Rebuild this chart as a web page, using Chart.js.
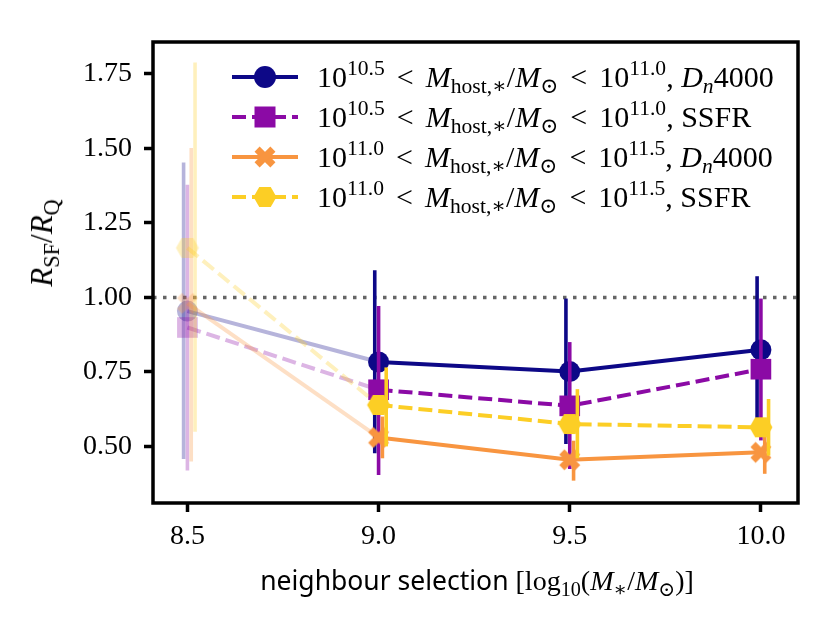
<!DOCTYPE html>
<html>
<head>
<meta charset="utf-8">
<script src="https://cdn.jsdelivr.net/npm/chart.js@4.4.1/dist/chart.umd.min.js"></script>
<style>
  html, body { margin: 0; padding: 0; background: #fff; }
  #wrap { position: relative; width: 830px; height: 642px; overflow: hidden; }
  #chart { position: absolute; left: 0; top: 0; }
  .math { font-family: "Liberation Serif", "DejaVu Serif", serif; color: #000; }
  .math i { font-style: italic; }
  .math sub, .math sup { font-size: 0.72em; line-height: 0; }
  .math sup { vertical-align: 0.55em; }
  .math sub { vertical-align: -0.3em; }
  .rel { margin: 0 0.4em; }
  #legend { position: absolute; left: 232px; top: 57px; }
  .row { height: 40px; display: flex; align-items: center; white-space: nowrap; font-size: 30px; }
  .row svg { flex: none; margin-right: 19px; }
  #ytitle { position: absolute; left: 42px; top: 243px; transform: translate(-50%, -50%) rotate(-90deg); font-size: 31px; white-space: nowrap; }
  #xtitle { position: absolute; left: 477px; top: 580px; transform: translate(-50%, -50%); font-size: 28px; white-space: nowrap; }
  .sans { font-family: "Noto Sans", "DejaVu Sans", sans-serif; font-size: 26.5px; }
</style>
</head>
<body>
<div id="wrap">
  <canvas id="chart" width="830" height="642"></canvas>
  <div id="legend" class="math"></div>
  <div id="ytitle" class="math"><i>R</i><sub>SF</sub>/<i>R</i><sub>Q</sub></div>
  <div id="xtitle" class="math"><span class="sans">neighbour selection</span> [log<sub>10</sub>(<i>M</i><sub>∗</sub>/<i>M</i><sub>⊙</sub>)]</div>
</div>
<script>
'use strict';

// neighbour selection mass (x) and the small sideways shift of each error bar
const neighbourMass = [8.5, 9.0, 9.5, 10.0];
const barOffsets = [-0.01, 0, 0.01, 0.02];

// 10^10.5 < M_host < 10^11.0, Dn4000
const loDn4000 = [0.954, 0.783, 0.751, 0.824];
const loDn4000Lower = [0.458, 0.477, 0.508, 0.55];
const loDn4000Upper = [1.453, 1.091, 0.996, 1.071];
// 10^10.5 < M_host < 10^11.0, SSFR
const loSsfr = [0.899, 0.690, 0.636, 0.759];
const loSsfrLower = [0.419, 0.404, 0.424, 0.52];
const loSsfrUpper = [1.378, 0.971, 0.850, 0.996];
// 10^11.0 < M_host < 10^11.5, Dn4000
const hiDn4000 = [0.98, 0.530, 0.455, 0.480];
const hiDn4000Lower = [0.449, 0.46, 0.385, 0.408];
const hiDn4000Upper = [1.501, 0.60, 0.519, 0.55];
// 10^11.0 < M_host < 10^11.5, SSFR
const hiSsfr = [1.166, 0.639, 0.575, 0.564];
const hiSsfrLower = [0.549, 0.50, 0.46, 0.469];
const hiSsfrUpper = [1.788, 0.765, 0.692, 0.659];

const xTicks = [8.5, 9.0, 9.5, 10.0];
const yTicks = [0.50, 0.75, 1.00, 1.25, 1.50, 1.75];
const refLevel = 1.0;

const hostBins = [['10.5', '11.0'], ['10.5', '11.0'], ['11.0', '11.5'], ['11.0', '11.5']];
const indicators = ['<i>D</i><sub><i>n</i></sub>4000', 'SSFR', '<i>D</i><sub><i>n</i></sub>4000', 'SSFR'];

const colours = [[13, 8, 135], [139, 10, 165], [248, 149, 64], [252, 206, 37]];
const markers = ['circle', 'square', 'X', 'H'];
const dashed = [false, true, false, true];
const FADE = 0.3;
const LINE_W = 4;
const BAR_W = 3.6;
const DASH = [14, 6];

function rgba(c, a) { return 'rgba(' + c[0] + ',' + c[1] + ',' + c[2] + ',' + a + ')'; }

// filled marker drawn into a small canvas so Chart.js can use it as pointStyle
function markerCanvas(kind, fill) {
   const cv = document.createElement('canvas');
   cv.width = 28; cv.height = 28;
   const g = cv.getContext('2d');
   g.fillStyle = fill;
   g.translate(14, 14);
   g.beginPath();
   if (kind === 'X') {
      g.rotate(Math.PI / 4);
      g.rect(-11.2, -3.6, 22.4, 7.2);
      g.rect(-3.6, -11.2, 7.2, 22.4);
   } else {
      for (let k = 0; k < 6; k++) {
         const a = k * Math.PI / 3;
         const px = 11.5 * Math.cos(a), py = 11.5 * Math.sin(a);
         if (k === 0) g.moveTo(px, py); else g.lineTo(px, py);
      }
      g.closePath();
   }
   g.fill('nonzero');
   return cv;
}

function points(ys) {
   return neighbourMass.map(function (x, i) { return { x: x, y: ys[i] }; });
}

const seriesY = [loDn4000, loSsfr, hiDn4000, hiSsfr];
const seriesLo = [loDn4000Lower, loSsfrLower, hiDn4000Lower, hiSsfrLower];
const seriesHi = [loDn4000Upper, loSsfrUpper, hiDn4000Upper, hiSsfrUpper];

const datasets = seriesY.map(function (ys, s) {
   const solid = rgba(colours[s], 1), faded = rgba(colours[s], FADE);
   const ds = {
      data: points(ys),
      borderColor: solid,
      borderWidth: LINE_W,
      borderDash: dashed[s] ? DASH : [],
      tension: 0,
      fill: false,
      order: 4 - s,
      pointBorderWidth: 0,
      pointHoverRadius: 0,
      segment: { borderColor: function (c) { return c.p0DataIndex === 0 ? faded : undefined; } },
      errLower: seriesLo[s],
      errUpper: seriesHi[s],
      errOffset: barOffsets[s],
      solidColour: solid,
      fadedColour: faded
   };
   const pc = ys.map(function (v, i) { return i === 0 ? faded : solid; });
   if (markers[s] === 'circle') {
      ds.pointStyle = 'circle'; ds.pointRadius = 10.5; ds.pointBackgroundColor = pc;
   } else if (markers[s] === 'square') {
      ds.pointStyle = 'rect'; ds.pointRadius = 14.6; ds.pointBackgroundColor = pc;
   } else {
      const a = markerCanvas(markers[s], faded), b = markerCanvas(markers[s], solid);
      ds.pointStyle = ys.map(function (v, i) { return i === 0 ? a : b; });
      ds.pointRadius = 11;
   }
   return ds;
});

// vertical error bars, drawn under each series' own line and markers
const errorBarPlugin = {
   id: 'errorBars',
   beforeDatasetDraw: function (chart, args) {
      const ds = chart.data.datasets[args.index];
      const xs = chart.scales.x, ys = chart.scales.y, c = chart.ctx, area = chart.chartArea;
      c.save();
      c.beginPath();
      c.rect(area.left, area.top, area.right - area.left, area.bottom - area.top);
      c.clip();
      c.lineWidth = BAR_W;
      c.lineCap = 'butt';
      ds.errLower.forEach(function (lo, i) {
         const px = xs.getPixelForValue(neighbourMass[i] + ds.errOffset);
         c.strokeStyle = i === 0 ? ds.fadedColour : ds.solidColour;
         c.beginPath();
         c.moveTo(px, ys.getPixelForValue(lo));
         c.lineTo(px, ys.getPixelForValue(ds.errUpper[i]));
         c.stroke();
      });
      c.restore();
   }
};

// dotted reference line at R_SF/R_Q = 1 and the black frame
const framePlugin = {
   id: 'frame',
   beforeDatasetsDraw: function (chart) {
      const c = chart.ctx, a = chart.chartArea, py = chart.scales.y.getPixelForValue(refLevel);
      c.save();
      c.strokeStyle = 'rgba(0,0,0,0.6)';
      c.lineWidth = 3.5;
      c.setLineDash([3.5, 6.5]);
      c.beginPath();
      c.moveTo(a.left, py);
      c.lineTo(a.right, py);
      c.stroke();
      c.restore();
   },
   afterDatasetsDraw: function (chart) {
      const c = chart.ctx, a = chart.chartArea;
      c.save();
      c.strokeStyle = '#000';
      c.lineWidth = 3.5;
      c.strokeRect(a.left, a.top, a.right - a.left, a.bottom - a.top);
      c.restore();
   }
};

const tickFont = { family: 'Liberation Serif', size: 28 };

new Chart(document.getElementById('chart'), {
   type: 'line',
   data: { datasets: datasets },
   options: {
      responsive: false,
      animation: false,
      events: [],
      layout: { padding: { top: 42, right: 32, left: 0, bottom: 0 } },
      plugins: { legend: { display: false }, tooltip: { enabled: false } },
      scales: {
         x: {
            type: 'linear', min: 8.41, max: 10.097,
            afterBuildTicks: function (s) { s.ticks = xTicks.map(function (v) { return { value: v }; }); },
            afterFit: function (s) { s.height = 139; },
            border: { display: false },
            grid: { drawOnChartArea: false, drawTicks: true, tickLength: 9, tickWidth: 3.5, tickColor: '#000' },
            ticks: { font: tickFont, color: '#000', padding: 8, maxRotation: 0, autoSkip: false,
               callback: function (v) { return v.toFixed(1); } }
         },
         y: {
            type: 'linear', min: 0.31, max: 1.857,
            afterBuildTicks: function (s) { s.ticks = yTicks.map(function (v) { return { value: v }; }); },
            afterFit: function (s) { s.width = 153; },
            border: { display: false },
            grid: { drawOnChartArea: false, drawTicks: true, tickLength: 9, tickWidth: 3.5, tickColor: '#000' },
            ticks: { font: tickFont, color: '#000', padding: 12, autoSkip: false,
               callback: function (v) { return v.toFixed(2); } }
         }
      }
   },
   plugins: [errorBarPlugin, framePlugin]
});

// legend: handle (line + marker) and the mass-bin label
function handleSvg(s) {
   const col = rgba(colours[s], 1);
   let shape = '';
   if (markers[s] === 'circle') shape = '<circle cx="33" cy="15" r="11" fill="' + col + '"/>';
   else if (markers[s] === 'square') shape = '<rect x="22.5" y="4.5" width="21" height="21" fill="' + col + '"/>';
   else if (markers[s] === 'X') shape = '<g transform="translate(33 15) rotate(45)" fill="' + col + '"><rect x="-11.2" y="-3.6" width="22.4" height="7.2"/><rect x="-3.6" y="-11.2" width="7.2" height="22.4"/></g>';
   else {
      const pts = [];
      for (let k = 0; k < 6; k++) pts.push((33 + 11.5 * Math.cos(k * Math.PI / 3)).toFixed(2) + ',' + (15 + 11.5 * Math.sin(k * Math.PI / 3)).toFixed(2));
      shape = '<polygon points="' + pts.join(' ') + '" fill="' + col + '"/>';
   }
   const dash = dashed[s] ? ' stroke-dasharray="' + DASH.join(' ') + '"' : '';
   return '<svg width="66" height="30" viewBox="0 0 66 30"><line x1="0" y1="15" x2="66" y2="15" stroke="' + col + '" stroke-width="' + LINE_W + '"' + dash + '/>' + shape + '</svg>';
}

const legend = document.getElementById('legend');
hostBins.forEach(function (bin, s) {
   const row = document.createElement('div');
   row.className = 'row';
   row.innerHTML = handleSvg(s) + '<span>10<sup>' + bin[0] + '</sup><span class="rel">&lt;</span><i>M</i><sub>host,∗</sub>/<i>M</i><sub>⊙</sub><span class="rel">&lt;</span>10<sup>' + bin[1] + '</sup>, ' + indicators[s] + '</span>';
   legend.appendChild(row);
});
</script>
</body>
</html>
